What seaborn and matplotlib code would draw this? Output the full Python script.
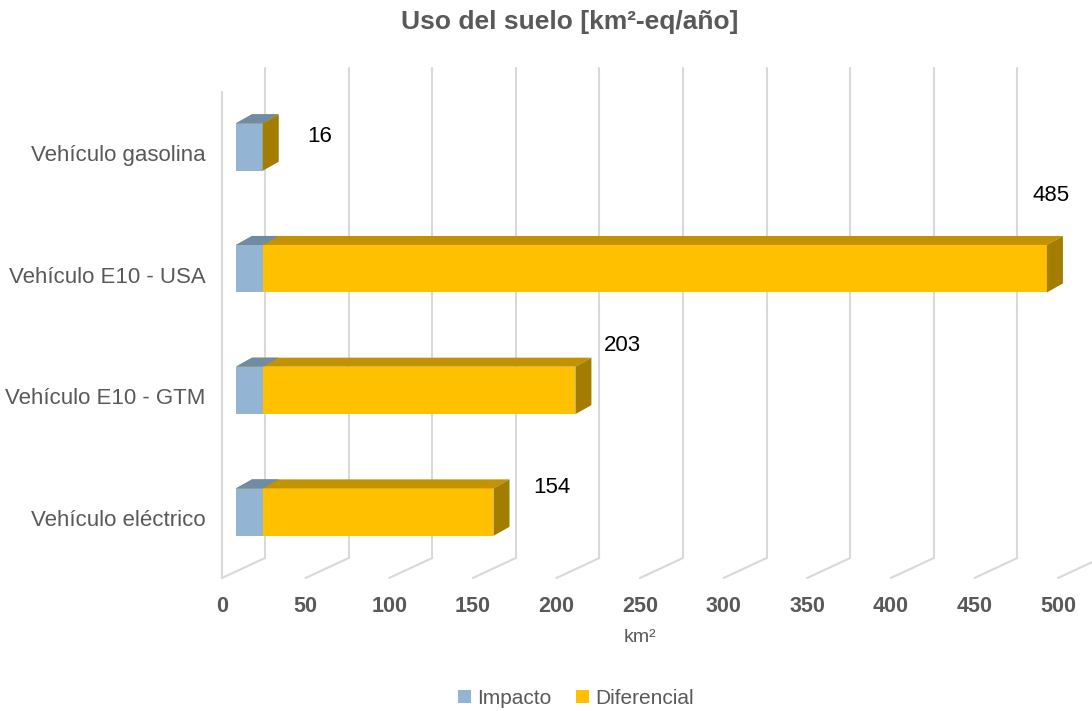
import numpy as np
import pandas as pd
import matplotlib
matplotlib.use("Agg")
import matplotlib.pyplot as plt
import seaborn as sns
from matplotlib import transforms
from matplotlib.patches import Polygon, Patch
from matplotlib.lines import Line2D

# ---------------- data ----------------
categories = ["Vehículo gasolina", "Vehículo E10 - USA", "Vehículo E10 - GTM", "Vehículo eléctrico"]
impacto = [16, 16, 16, 16]
diferencial = [0, 469, 187, 138]
etiquetas = [16, 485, 203, 154]
x_ticks = [0, 50, 100, 150, 200, 250, 300, 350, 400, 450, 500]
title = "Uso del suelo [km²-eq/año]"
x_label = "km²"
series_names = ["Impacto", "Diferencial"]

# ---------------- style ----------------
W, H, DPI = 1092, 711, 100
BLUE, BLUE_TOP = "#93B5D3", "#6F8BA5"
YEL, YEL_TOP, YEL_SIDE = "#FFC000", "#C39200", "#A37D00"
GRID = "#D9D9D9"
GRAY = "#595959"
DX, DY = 16, 9            # 3D depth offset of bars (pixels)
BACK, FRONT = 29, -14     # back wall / floor front offsets (pixels)
label_off = [(57, 10), (4, 73), (47, 45), (58, 25)]

sns.set_theme(style="white")
plt.rcParams["font.family"] = ["Liberation Sans", "DejaVu Sans"]

fig = plt.figure(figsize=(W / DPI, H / DPI), dpi=DPI)
ax = fig.add_axes([222 / W, (H - 578) / H, 870 / W, 510 / H])

df = pd.DataFrame({"cat": categories,
                   "total": np.add(impacto, diferencial),
                   "imp": impacto})
sns.barplot(data=df, x="total", y="cat", orient="h", color=YEL, saturation=1,
            width=0.39, errorbar=None, linewidth=0, ax=ax, zorder=2)
sns.barplot(data=df, x="imp", y="cat", orient="h", color=BLUE, saturation=1,
            width=0.39, errorbar=None, linewidth=0, ax=ax, zorder=2)

S = 1.672  # pixels per unit
ax.set_xlim(-14 / S, (W - 236) / S)
ax.set_ylim((578 - 147) / 121.7, (68 - 147) / 121.7)
for sp in ax.spines.values():
    sp.set_visible(False)
ax.set_xlabel("")
ax.set_ylabel("")

ident = transforms.IdentityTransform()

# ---- 3D walls / grid ----
ybot_front = H - 578
ybot_back = H - 558
ytop_back = H - 68
for v in x_ticks:
    xd = ax.transData.transform((v, 0))[0]
    ax.add_line(Line2D([xd + BACK, xd + BACK], [ybot_back, ytop_back], color=GRID,
                       lw=1.5, transform=ident, zorder=0, clip_on=False))
    ax.add_line(Line2D([xd + BACK, xd + FRONT], [ybot_back, ybot_front], color=GRID,
                       lw=1.5, transform=ident, zorder=0, clip_on=False))
x0d = ax.transData.transform((0, 0))[0]
ax.add_line(Line2D([x0d + FRONT, x0d + FRONT], [ybot_front, H - 92], color=GRID,
                   lw=1.5, transform=ident, zorder=0, clip_on=False))

# ---- 3D faces of bars ----
yellow_bars = ax.containers[0]
blue_bars = ax.containers[1]

def faces(p, top_color, side_color=None):
    x0, y0 = p.get_x(), p.get_y()
    x1, y1 = x0 + p.get_width(), y0 + p.get_height()
    (dx0, dyA), (dx1, dyB) = ax.transData.transform([(x0, y0), (x1, y1)])
    yt, yb = max(dyA, dyB), min(dyA, dyB)
    ax.add_patch(Polygon([(dx0, yt), (dx1, yt), (dx1 + DX, yt + DY), (dx0 + DX, yt + DY)],
                         closed=True, facecolor=top_color, edgecolor="none",
                         transform=ident, zorder=3, clip_on=False))
    if side_color:
        ax.add_patch(Polygon([(dx1, yb), (dx1, yt), (dx1 + DX, yt + DY), (dx1 + DX, yb + DY)],
                             closed=True, facecolor=side_color, edgecolor="none",
                             transform=ident, zorder=3, clip_on=False))
    return dx1, (yt + yb) / 2

ends = []
for p in yellow_bars:
    ends.append(faces(p, YEL_TOP, YEL_SIDE))
for p in blue_bars:
    faces(p, BLUE_TOP)

# ---- data labels ----
for (ex, ey), val, (ox, oy) in zip(ends, etiquetas, label_off):
    ax.text(ex + ox, ey + oy, f"{val}", transform=ident, fontsize=16, color="black",
            ha="center", va="center", zorder=5)

# ---- ticks ----
ax.set_xticks(x_ticks)
ax.set_xticklabels([str(t) for t in x_ticks])
ax.tick_params(axis="x", length=0, pad=13, labelsize=15.5, labelcolor=GRAY)
shift_x = transforms.ScaledTranslation(FRONT / DPI, 0, fig.dpi_scale_trans)
for lab in ax.get_xticklabels():
    lab.set_fontweight("bold")
    lab.set_transform(lab.get_transform() + shift_x)
ax.tick_params(axis="y", length=0, pad=12, labelsize=16, labelcolor=GRAY)
shift_y = transforms.ScaledTranslation(0, -6 / DPI, fig.dpi_scale_trans)
for lab in ax.get_yticklabels():
    lab.set_transform(lab.get_transform() + shift_y)

# ---- texts ----
fig.text(570 / W, 1 - 22 / H, title, ha="center", va="center", fontsize=19,
         fontweight="bold", color=GRAY)
fig.text(640 / W, 1 - 637 / H, x_label, ha="center", va="center", fontsize=14, color=GRAY)

handles = [Patch(facecolor=BLUE, edgecolor="none"), Patch(facecolor=YEL, edgecolor="none")]
fig.legend(handles, series_names, loc="center", bbox_to_anchor=(576 / W, 1 - 698 / H),
           ncol=2, frameon=False, fontsize=15, labelcolor=GRAY, handlelength=0.6,
           handleheight=0.6, handletextpad=0.3, columnspacing=1.2)

fig.savefig("out.png", dpi=DPI)
